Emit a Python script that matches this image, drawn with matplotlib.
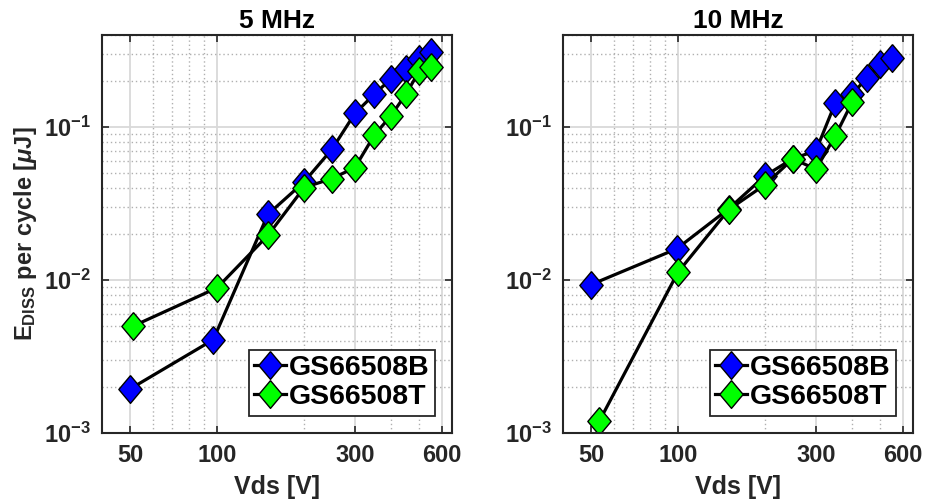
import numpy as np
import matplotlib
matplotlib.use("Agg")
import matplotlib.pyplot as plt
from matplotlib.ticker import FixedLocator, FuncFormatter, NullFormatter

plt.rcParams['font.family'] = 'Liberation Sans'
plt.rcParams['font.weight'] = 'bold'
plt.rcParams['mathtext.fontset'] = 'custom'
plt.rcParams['mathtext.rm'] = 'Liberation Sans:bold'
plt.rcParams['mathtext.bf'] = 'Liberation Sans:bold'
plt.rcParams['mathtext.it'] = 'Liberation Sans:bold:italic'

# 5 MHz data
vds_5_b = [50, 97, 150, 200, 250, 300, 350, 400, 450, 500, 550]
e_5_b = [0.00194, 0.00407, 0.0269, 0.0438, 0.0718, 0.123, 0.164, 0.207, 0.240, 0.279, 0.309]
vds_5_t = [51, 100, 150, 200, 250, 300, 350, 400, 450, 500, 550]
e_5_t = [0.00498, 0.00889, 0.0196, 0.0402, 0.0461, 0.0544, 0.0886, 0.119, 0.164, 0.231, 0.246]

# 10 MHz data
vds_10_b = [50, 99, 150, 200, 250, 300, 350, 400, 450, 500, 550]
e_10_b = [0.00933, 0.0160, 0.0293, 0.0480, 0.0623, 0.0699, 0.1436, 0.165, 0.208, 0.259, 0.282]
vds_10_t = [53.5, 100, 150, 200, 250, 300, 350, 400]
e_10_t = [0.00120, 0.01125, 0.0289, 0.0420, 0.0620, 0.0530, 0.0875, 0.145]

labels = ['GS66508B', 'GS66508T']
titles = ['5 MHz', '10 MHz']

diamond = [(0, 1), (0.84, 0), (0, -1), (-0.84, 0), (0, 1)]

fig = plt.figure(figsize=(9.25, 5.04), dpi=100)
ax1 = fig.add_axes([0.1103, 0.1409, 0.3784, 0.7897])
ax2 = fig.add_axes([0.6086, 0.1409, 0.3784, 0.7897])

datasets = [
    (ax1, vds_5_b, e_5_b, vds_5_t, e_5_t, titles[0]),
    (ax2, vds_10_b, e_10_b, vds_10_t, e_10_t, titles[1]),
]

for ax, xb, yb, xt, yt, title in datasets:
    ax.plot(xb, yb, color='black', lw=2.3, marker=diamond, ms=20,
            mfc='#0000FF', mec='black', mew=1.0, label=labels[0])
    ax.plot(xt, yt, color='black', lw=2.3, marker=diamond, ms=20,
            mfc='#00FF00', mec='black', mew=1.0, label=labels[1])
    ax.set_xscale('log')
    ax.set_yscale('log')
    ax.set_xlim(40, 650)
    ax.set_ylim(1e-3, 0.4)

    ax.xaxis.set_major_locator(FixedLocator([50, 100, 300, 600]))
    ax.xaxis.set_major_formatter(FuncFormatter(lambda v, p: '%d' % v))
    ax.xaxis.set_minor_locator(FixedLocator([60, 70, 80, 90, 200, 400, 500]))
    ax.xaxis.set_minor_formatter(NullFormatter())
    ax.yaxis.set_major_locator(FixedLocator([1e-3, 1e-2, 1e-1]))
    ax.yaxis.set_major_formatter(FuncFormatter(
        lambda v, p: r'$\mathbf{10^{%d}}$' % int(round(np.log10(v)))))
    yminor = [m * 10.0 ** k for k in (-3, -2, -1) for m in range(2, 10)]
    ax.yaxis.set_minor_locator(FixedLocator(yminor))
    ax.yaxis.set_minor_formatter(NullFormatter())

    ax.grid(True, which='major', color='#d9d9d9', lw=1.3, ls='-')
    ax.grid(True, which='minor', color='#b0b0b0', lw=1.0, ls=(0, (1, 2)))
    ax.set_axisbelow(True)

    ax.tick_params(which='major', direction='in', length=5, width=1.2,
                   top=True, right=True, labelsize=17, colors='#262626',
                   labelcolor='#262626', pad=8)
    ax.tick_params(which='minor', length=0)
    for s in ax.spines.values():
        s.set_color('#262626')
        s.set_linewidth(1.5)

    ax.set_title(title, fontsize=19, fontweight='bold', pad=5)
    ax.set_xlabel('Vds [V]', fontsize=18, fontweight='bold', color='#262626', labelpad=6)

    leg = ax.legend(loc='lower right', fontsize=20.5, handlelength=1.1,
                    handletextpad=0.1, borderpad=0.2, labelspacing=0.1,
                    borderaxespad=0.6, fancybox=False, framealpha=1,
                    edgecolor='#262626')
    leg.get_frame().set_linewidth(1.3)
    for t in leg.get_texts():
        t.set_fontweight('bold')

ax1.set_ylabel(r'E$_{\mathbf{DISS}}$ per cycle [$\mu$J]', fontsize=17,
               fontweight='bold', color='#262626', labelpad=4)

fig.savefig('out.png', dpi=100)
